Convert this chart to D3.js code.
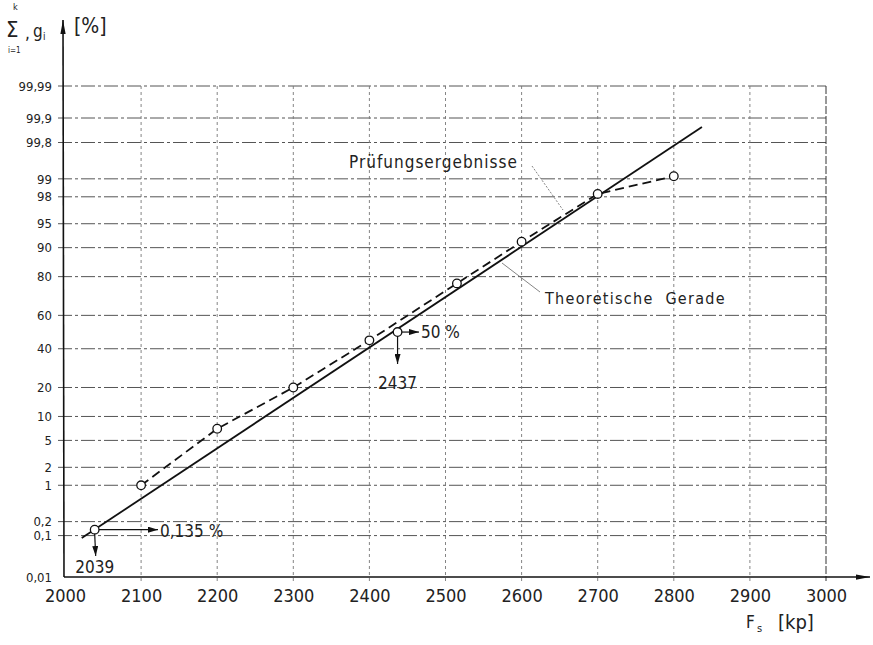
<!DOCTYPE html>
<html>
<head>
<meta charset="utf-8">
<script src="https://cdn.jsdelivr.net/npm/d3@7"></script>
<style>
  body { margin: 0; background: #fff; }
  text { font-family: "DejaVu Sans Condensed", "DejaVu Sans", sans-serif; fill: #222; }
</style>
</head>
<body>
<div id="chart"></div>
<script>
// values
const xTicks = [2000, 2100, 2200, 2300, 2400, 2500, 2600, 2700, 2800, 2900, 3000];
const yTicks = [0.01, 0.1, 0.2, 1, 2, 5, 10, 20, 40, 60, 80, 90, 95, 98, 99, 99.8, 99.9, 99.99];
const yTickLabels = ['0,01', '0,1', '0,2', '1', '2', '5', '10', '20', '40', '60', '80', '90', '95', '98', '99', '99,8', '99,9', '99,99'];

// test results (Prüfungsergebnisse)
const testF = [2100, 2200, 2300, 2400, 2515, 2600, 2700, 2800];
const testP = [1, 7.1, 20, 45, 77, 91.5, 98.2, 99.1];

// theoretical straight line, end points
const theoryF = [2022, 2837];
const theoryP = [0.088, 99.87];

// marked points on the line
const markF = [2039, 2437];
const markP = [0.135, 50];

const svgCanvas = {width: 873, height: 645};

// inverse normal cdf (Acklam)
function probit(p) {
    const a = [-39.69683028665376, 220.9460984245205, -275.9285104469687, 138.3577518672690, -30.66479806614716, 2.506628277459239];
    const b = [-54.47609879822406, 161.5858368580409, -155.6989798598866, 66.80131188771972, -13.28068155288572];
    const c = [-0.007784894002430293, -0.3223964580411365, -2.400758277161838, -2.549732539343734, 4.374664141464968, 2.938163982698783];
    const d = [0.007784695709041462, 0.3224671290700398, 2.445134137142996, 3.754408661907416];
    const pl = 0.02425;
    let q, r;
    if (p < pl) {
        q = Math.sqrt(-2 * Math.log(p));
        return (((((c[0]*q+c[1])*q+c[2])*q+c[3])*q+c[4])*q+c[5]) / ((((d[0]*q+d[1])*q+d[2])*q+d[3])*q+1);
    } else if (p <= 1 - pl) {
        q = p - 0.5; r = q * q;
        return (((((a[0]*r+a[1])*r+a[2])*r+a[3])*r+a[4])*r+a[5])*q / (((((b[0]*r+b[1])*r+b[2])*r+b[3])*r+b[4])*r+1);
    }
    q = Math.sqrt(-2 * Math.log(1 - p));
    return -(((((c[0]*q+c[1])*q+c[2])*q+c[3])*q+c[4])*q+c[5]) / ((((d[0]*q+d[1])*q+d[2])*q+d[3])*q+1);
}
const z = p => probit(p / 100);

const xScale = d3.scaleLinear().domain([2000, 3000]).range([65, 826]);
// probability paper; the drawn sheet stretches the top band 99,8..99,99 a bit
const yScale = d3.scaleLinear()
    .domain([z(0.01), z(99.8), z(99.9), z(99.99)])
    .range([577, 142.5, 118, 86]);
const yP = p => yScale(z(p));

const svg = d3.select('#chart').append('svg')
    .attr('width', svgCanvas.width)
    .attr('height', svgCanvas.height);

const defs = svg.append('defs');
defs.append('marker').attr('id', 'arr')
    .attr('viewBox', '0 0 10 6').attr('refX', 10).attr('refY', 3)
    .attr('markerWidth', 10).attr('markerHeight', 6).attr('markerUnits', 'userSpaceOnUse')
    .attr('orient', 'auto')
    .append('path').attr('d', 'M0,0 L10,3 L0,6 Z').attr('fill', '#111');
defs.append('marker').attr('id', 'bigarr')
    .attr('viewBox', '0 0 16 8').attr('refX', 16).attr('refY', 4)
    .attr('markerWidth', 16).attr('markerHeight', 7).attr('markerUnits', 'userSpaceOnUse')
    .attr('orient', 'auto')
    .append('path').attr('d', 'M0,1 L16,4 L0,7 Z').attr('fill', '#111');

// grid
const grid = svg.append('g');
grid.selectAll('.hgrid')
    .data(yTicks.slice(1))
    .enter().append('line')
    .attr('x1', 58).attr('x2', xScale(3000))
    .attr('y1', d => yP(d)).attr('y2', d => yP(d))
    .attr('stroke', '#555').attr('stroke-width', 1)
    .attr('stroke-dasharray', '14,3,3,3');
grid.selectAll('.vgrid')
    .data(xTicks.slice(1))
    .enter().append('line')
    .attr('x1', d => xScale(d)).attr('x2', d => xScale(d))
    .attr('y1', yP(99.99)).attr('y2', 581)
    .attr('stroke', d => d === 3000 ? '#333' : '#777')
    .attr('stroke-width', d => d === 3000 ? 1 : 0.9)
    .attr('stroke-dasharray', d => d === 3000 ? '8,2' : '3,3');

// axes
const xAxis = svg.append('g')
    .attr('transform', 'translate(0,577)')
    .call(d3.axisBottom(xScale).tickValues(xTicks).tickFormat(d3.format('d')).tickSize(0).tickPadding(12));
xAxis.select('.domain').remove();
xAxis.selectAll('text').attr('font-size', 18).attr('font-family', null);

const yAxis = svg.append('g')
    .attr('transform', 'translate(64,0)')
    .call(d3.axisLeft(yScale)
        .tickValues(yTicks.map(z))
        .tickFormat((d, i) => yTickLabels[i])
        .tickSize(0).tickPadding(12));
yAxis.select('.domain').remove();
yAxis.selectAll('text').attr('font-size', 13).attr('font-family', null);

svg.append('line').attr('x1', 64).attr('y1', 577).attr('x2', 870).attr('y2', 577)
    .attr('stroke', '#111').attr('stroke-width', 1.6).attr('marker-end', 'url(#bigarr)');
svg.append('line').attr('x1', 64).attr('y1', 577).attr('x2', 63).attr('y2', 20)
    .attr('stroke', '#111').attr('stroke-width', 1.6).attr('marker-end', 'url(#bigarr)');

// axis titles
const yt = svg.append('g');
yt.append('text').attr('x', 13).attr('y', 10).attr('font-size', 9).text('k');
yt.append('text').attr('x', 6).attr('y', 37).attr('font-size', 22).text('Σ');
yt.append('text').attr('x', 8).attr('y', 53).attr('font-size', 8).text('i=1');
yt.append('text').attr('x', 25).attr('y', 39).attr('font-size', 17).text(',');
yt.append('text').attr('x', 33).attr('y', 37).attr('font-size', 17).text('g');
yt.append('text').attr('x', 43).attr('y', 40).attr('font-size', 10).text('i');
yt.append('text').attr('x', 74).attr('y', 33).attr('font-size', 21).text('[%]');

svg.append('text').attr('x', 746).attr('y', 628).attr('font-size', 17).text('F');
svg.append('text').attr('x', 757).attr('y', 632).attr('font-size', 11).text('s');
svg.append('text').attr('x', 778).attr('y', 629).attr('font-size', 20).text('[kp]');

// theoretical line
const line = d3.line().x(d => xScale(d[0])).y(d => yP(d[1]));
svg.append('path')
    .datum(theoryF.map((f, i) => [f, theoryP[i]]))
    .attr('d', line)
    .attr('fill', 'none').attr('stroke', '#111').attr('stroke-width', 1.8);

// test results
svg.append('path')
    .datum(testF.map((f, i) => [f, testP[i]]))
    .attr('d', line)
    .attr('fill', 'none').attr('stroke', '#111').attr('stroke-width', 1.8)
    .attr('stroke-dasharray', '9,5');

// annotation arrows for marked points
const ann = svg.append('g');
ann.append('line')
    .attr('x1', xScale(markF[0]) + 4).attr('y1', yP(markP[0]))
    .attr('x2', 158).attr('y2', yP(markP[0]))
    .attr('stroke', '#111').attr('stroke-width', 1.2).attr('marker-end', 'url(#arr)');
ann.append('line')
    .attr('x1', xScale(markF[0])).attr('y1', yP(markP[0]) + 4)
    .attr('x2', xScale(markF[0]) + 1).attr('y2', 556)
    .attr('stroke', '#111').attr('stroke-width', 1.2).attr('marker-end', 'url(#arr)');
ann.append('text').attr('x', 160).attr('y', yP(markP[0]) + 7).attr('font-size', 17).text('0,135 %');
ann.append('text').attr('x', xScale(markF[0])).attr('y', 573).attr('font-size', 17)
    .attr('text-anchor', 'middle').text('2039');

ann.append('line')
    .attr('x1', xScale(markF[1]) + 4).attr('y1', yP(markP[1]))
    .attr('x2', 419).attr('y2', yP(markP[1]))
    .attr('stroke', '#111').attr('stroke-width', 1.2).attr('marker-end', 'url(#arr)');
ann.append('line')
    .attr('x1', xScale(markF[1])).attr('y1', yP(markP[1]) + 4)
    .attr('x2', xScale(markF[1])).attr('y2', 364)
    .attr('stroke', '#111').attr('stroke-width', 1.2).attr('marker-end', 'url(#arr)');
ann.append('text').attr('x', 421).attr('y', yP(markP[1]) + 6).attr('font-size', 17).text('50 %');
ann.append('text').attr('x', xScale(markF[1])).attr('y', 389).attr('font-size', 17)
    .attr('text-anchor', 'middle').text('2437');

// circles
svg.selectAll('.pt')
    .data(testF.map((f, i) => [f, testP[i]]).concat(markF.map((f, i) => [f, markP[i]])))
    .enter().append('circle')
    .attr('cx', d => xScale(d[0])).attr('cy', d => yP(d[1]))
    .attr('r', 4.3)
    .attr('fill', '#fff').attr('stroke', '#111').attr('stroke-width', 1.3);

// labels with leaders
svg.append('text').attr('x', 349).attr('y', 168).attr('font-size', 17)
    .attr('letter-spacing', 1).text('Prüfungsergebnisse');
svg.append('line').attr('x1', 532).attr('y1', 166).attr('x2', 563).attr('y2', 210)
    .attr('stroke', '#666').attr('stroke-width', 0.8).attr('stroke-dasharray', '2,1.5');
svg.append('text').attr('x', 545).attr('y', 304).attr('font-size', 16)
    .attr('letter-spacing', 1.3).attr('xml:space', 'preserve').text('Theoretische  Gerade');
svg.append('line').attr('x1', 502).attr('y1', 263).attr('x2', 540).attr('y2', 292)
    .attr('stroke', '#666').attr('stroke-width', 0.8);
</script>
</body>
</html>
